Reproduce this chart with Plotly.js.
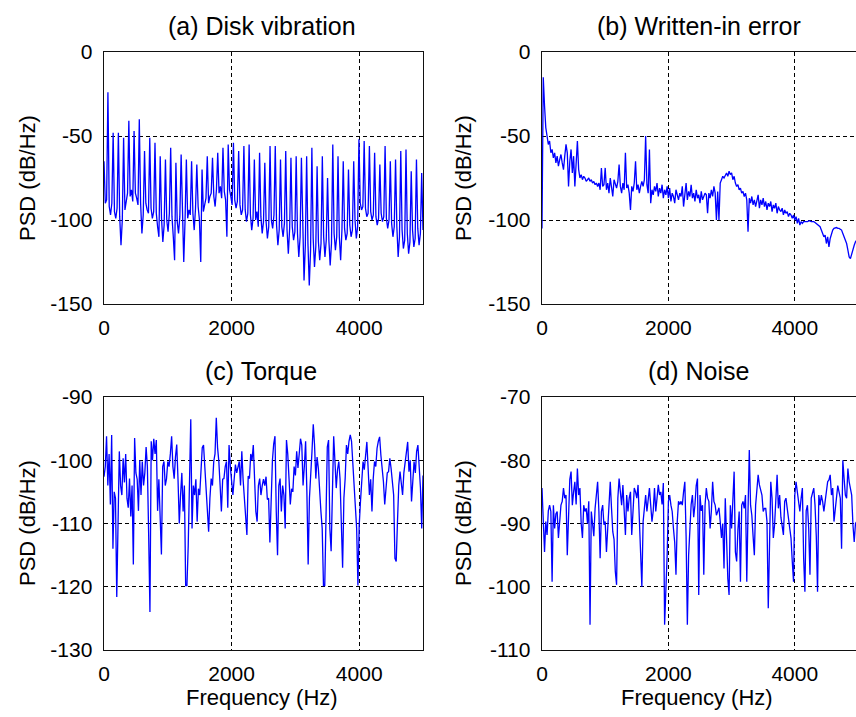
<!DOCTYPE html>
<html>
<head>
<meta charset="utf-8">
<script src="https://cdn.plot.ly/plotly-3.0.1.min.js"></script>
<style>
html, body { margin: 0; padding: 0; background: #fff; overflow: hidden; width: 856px; height: 717px; }
#chart { width: 880px; height: 717px; }
</style>
</head>
<body>
<div id="chart"></div>
<script>
// ---------------- data ----------------
const panelTitles = ["(a) Disk vibration", "(b) Written-in error", "(c) Torque", "(d) Noise"];
const yLabel = "PSD (dB/Hz)";
const xLabel = "Frequency (Hz)";

const xTickVals = [0, 2000, 4000];
const xTickText = ["0", "2000", "4000"];
const yTickValsAB = [-150, -100, -50, 0];
const yTickTextAB = ["-150", "-100", "-50", "0"];
const yTickValsC = [-130, -120, -110, -100, -90];
const yTickTextC = ["-130", "-120", "-110", "-100", "-90"];
const yTickValsD = [-110, -100, -90, -80, -70];
const yTickTextD = ["-110", "-100", "-90", "-80", "-70"];

// (a) Disk vibration PSD, 245 bins over 0..5000 Hz
const psdA = [
 -65, -90, -88, -24,   -92, -97, -90, -48,   -95, -99, -93, -48,   -98, -115, -100, -51,
 -94, -88, -84, -41,   -86, -82, -89, -47,   -84, -87, -91, -40,   -90, -108, -97, -59,
 -90, -94, -96, -51,   -93, -99, -95, -54,   -96, -104, -110, -62, -99, -113, -103, -64,
 -100, -107, -96, -57, -98, -110, -124, -66, -101, -108, -98, -61, -103, -125, -100, -64,
 -99, -94, -97, -65,   -96, -106, -93, -67,  -92, -100, -125, -70, -95, -90, -87, -62,
 -90, -86, -84, -63,   -86, -92, -82, -60,   -84, -80, -87, -57,   -83, -88, -110, -55,
 -82, -86, -91, -54,   -88, -93, -89, -59,   -91, -97, -94, -56,   -94, -101, -96, -55,
 -97, -106, -99, -64,  -100, -95, -104, -60, -98, -108, -101, -66, -101, -111, -104, -56,
 -100, -105, -97, -56, -103, -115, -106, -64, -104, -110, -102, -59, -106, -120, -105, -63,
 -104, -112, -107, -62, -108, -122, -110, -63, -112, -136, -115, -62, -114, -139, -118, -57,
 -111, -128, -116, -68, -113, -124, -114, -62, -110, -122, -112, -75, -112, -127, -114, -55,
 -108, -118, -110, -62, -110, -124, -106, -65, -105, -112, -108, -70, -103, -110, -106, -65,
 -100, -111, -104, -52, -90, -94, -92, -53,  -93, -98, -96, -56,   -95, -100, -97, -60,
 -98, -103, -99, -67,  -96, -101, -98, -56,  -99, -105, -100, -65, -102, -110, -104, -64,
 -104, -122, -110, -59, -106, -117, -112, -58, -108, -120, -113, -71, -106, -116, -111, -64,
 -105, -115, -108, -72,
 -106
];

// (b) Written-in error PSD, 20 Hz bins over 0..5000 Hz
const psdB = [
 -105, -15, -32, -45, -50, -55, -53, -60, -58, -63,
 -60, -66, -62, -68, -64, -61, -66, -70, -62, -55,
 -60, -80, -65, -58, -72, -62, -80, -68, -53, -70,
 -75, -73, -76, -74, -75, -77, -76, -75, -77, -76,
 -78, -77, -79, -78, -80, -78, -82, -69, -80, -79,
 -69, -82, -78, -84, -75, -80, -86, -76, -79, -81,
 -77, -67, -80, -84, -78, -82, -60, -81, -79, -84,
 -94, -80, -83, -78, -65, -82, -79, -84, -80, -77,
 -80, -76, -50, -79, -84, -58, -90, -82, -85, -80,
 -83, -78, -86, -81, -84, -79, -87, -82, -85, -80,
 -87, -81, -89, -84, -86, -90, -82, -85, -88, -84,
 -86, -80, -92, -85, -78, -88, -83, -86, -79, -87,
 -84, -89, -82, -87, -85, -90, -83, -88, -86, -84,
 -85, -96, -84, -87, -82, -86, -80, -84, -100, -83,
 -100, -78, -76, -74, -75, -73, -72, -74, -71, -73,
 -72, -76, -74, -78, -80, -79, -82, -81, -84, -83,
 -86, -84, -88, -107, -87, -90, -86, -91, -88, -92,
 -89, -85, -93, -88, -91, -87, -92, -89, -94, -90,
 -92, -89, -95, -91, -93, -90, -96, -92, -94, -95,
 -93, -97, -94, -96, -95, -98, -96, -97, -99, -97,
 -100, -98, -102, -99, -103, -101, -102, -101, -101, -101,
 -101, -100.5, -100.5, -101, -101, -101, -101.5, -102, -102.5, -103,
 -104, -106, -108, -110, -109, -114, -110, -116, -111, -108,
 -106, -105, -104.5, -104.5, -105, -105, -105.5, -106, -108, -110,
 -112, -114, -118, -122, -123, -120, -117, -115, -113, -112,
 -111
];

// (c) Torque PSD, 20 Hz bins over 0..5000 Hz
const psdC = [
 -102.6, -101, -96.2, -104, -99, -107, -96, -114, -105, -106,
 -121.6, -110, -98.6, -104, -105.5, -99.7, -103.5, -99, -106, -107.5,
 -102.9, -108.9, -104, -116.5, -96.5, -102, -103, -108, -100, -105.5,
 -100.2, -104, -102, -97.9, -101, -111.8, -124, -97, -100, -96.6,
 -99, -96.8, -108, -103, -109, -114.9, -101, -100.2, -104, -102.9,
 -100.2, -101, -99, -96.2, -101, -102.9, -99.5, -97.5, -103, -110,
 -105.5, -102, -108.1, -104, -119.8, -119.8, -113.5, -104, -93.5, -110.8,
 -104, -105.5, -103, -109.7, -104.5, -105.5, -100.2, -98, -97.6, -101,
 -105.5, -108, -111.3, -106, -102.9, -104, -100.2, -99, -93.3, -98,
 -100.2, -104, -108.1, -103, -102.9, -101, -100.2, -107.5, -97.6, -101,
 -102.9, -105.5, -103, -100.7, -102, -101, -100.2, -104, -98.6, -103,
 -105.5, -108, -111.8, -102.5, -102.9, -99, -100, -97.6, -105, -108.1,
 -109.7, -104, -102.9, -105.5, -104, -103, -104, -102.6, -106.2, -106,
 -113, -105.5, -100, -97.4, -96.2, -108.1, -115, -104, -102.9, -108.1,
 -104, -105.5, -110.8, -96.8, -99, -102.9, -107, -104.5, -105, -101,
 -102.4, -98.6, -101.2, -99, -96.6, -97.6, -104, -101, -97, -105,
 -116.5, -106, -102.9, -98.6, -94.3, -97.6, -102.9, -99.5, -101.3, -106,
 -108.1, -110.8, -119.8, -119.8, -105.5, -97.9, -96.8, -110.8, -114.4, -103,
 -96.2, -100.2, -104.4, -101.5, -100.2, -103, -110.8, -117, -106, -102.9,
 -97.6, -99, -97, -96, -97, -100.7, -105.5, -108, -110.8, -119.8,
 -110.3, -106.5, -102.9, -100.2, -101.5, -99.2, -97.1, -101.3, -105.5, -103,
 -108.1, -102.9, -100.2, -101, -98.1, -97, -96.3, -99.2, -101, -103.4,
 -107, -104.5, -102, -101.8, -99.7, -101.3, -103, -105.5, -115.5, -116,
 -109.7, -104, -101.8, -103.4, -105.5, -102, -100.2, -98.1, -97.1, -101.8,
 -100, -106.5, -103.4, -100.2, -102, -98.6, -97.6, -101, -104.4, -110.8,
 -102.4
];

// (d) Noise PSD, 20 Hz bins over 0..5000 Hz
const psdD = [
 -84.4, -89.7, -94.5, -89.7, -91.8, -88, -87.1, -88.1, -99.2, -87.1,
 -90.8, -88.5, -88.1, -92.3, -89, -87.1, -86.5, -84.4, -86, -85.5,
 -95, -87.6, -83, -81.8, -87.1, -85, -83.4, -87, -81.3, -85.5,
 -84.4, -90, -92.3, -87.1, -88.1, -87.6, -90, -86.5, -106, -88.1,
 -90.8, -92, -87.6, -85, -83.4, -88, -95.5, -88.1, -87.1, -90.2,
 -89.7, -94.5, -90, -85.5, -83.4, -87.6, -91.3, -92.5, -97.6, -99.7,
 -86, -82.9, -85, -87.1, -83.9, -88, -91.8, -85.5, -88.1, -86,
 -85, -91.8, -87.1, -84.4, -85, -86, -83.9, -89, -95, -100,
 -89.7, -87.1, -85.5, -88.1, -86.5, -84.4, -87.1, -89.7, -88, -84.4,
 -88.1, -86, -83.9, -85.5, -85, -87, -83.6, -106, -101.3, -95,
 -86.5, -85.5, -87.1, -88.1, -90.8, -93, -98.1, -89.7, -86.5, -87,
 -86.5, -87.1, -85, -83.4, -92, -106, -95, -90, -87, -85.5,
 -89, -87.1, -84, -82.9, -101.3, -85.5, -88, -87.1, -98.1, -87.1,
 -84.4, -86, -86.5, -90.8, -88, -83.4, -86.5, -87.1, -88.7, -88.1,
 -87.5, -89.7, -92.3, -90, -97.1, -86, -93, -98.7, -101.3, -87.1,
 -90.8, -86, -81.8, -94.5, -96, -91, -88.1, -99.2, -87.1, -86.5,
 -87.6, -85.5, -99.2, -88, -78.4, -87.1, -88.7, -92, -95, -87.1,
 -85, -82.3, -83.9, -85, -85.5, -88.1, -87.6, -87.6, -89.7, -103.4,
 -93.9, -83.4, -86, -92.3, -90.2, -85, -82.3, -87.6, -85.5, -89,
 -90.8, -91.8, -86.5, -86, -87.6, -89.5, -90.8, -92.3, -96, -99.2,
 -85.5, -83.4, -85, -87.1, -88.1, -86, -84.4, -95.5, -100.8, -88,
 -87.1, -90.8, -98.1, -86, -85, -84.4, -87.1, -92, -100.8, -85.5,
 -87.1, -85.5, -86.5, -88.1, -86.5, -84.4, -83.4, -83.1, -82.3, -85.5,
 -84.4, -89.7, -88, -85.5, -84, -85, -86, -94, -80, -82.9,
 -85.5, -86, -81.3, -83.4, -84.4, -85.5, -90.2, -92.9, -90, -89.7,
 -88
];

// frequency bins (uniform sampling of 0..5000 Hz)
const fMax = 5000;
const freqA = psdA.map((_, i) => i * fMax / (psdA.length - 1));
const freqB = psdB.map((_, i) => i * fMax / (psdB.length - 1));
const freqC = psdC.map((_, i) => i * fMax / (psdC.length - 1));
const freqD = psdD.map((_, i) => i * fMax / (psdD.length - 1));

// ---------------- layout ----------------
const W = 880, H = 717;
const PX = p => p / W;
const PY = p => 1 - p / H;
const colL = [104, 423], colR = [542, 858];
const rowT = [52, 304], rowB = [397, 650];

const FONT = "Liberation Sans, Arial, Helvetica, sans-serif";
const lineColor = "rgb(0,0,255)";
const GRIDDASH = "4px,3px";

function xAxis(col, anchor) {
  return {
    domain: [PX(col[0]), PX(col[1])], anchor: anchor,
    range: [0, fMax], tickmode: "array", tickvals: xTickVals, ticktext: xTickText,
    showline: true, mirror: true, linecolor: "#111", linewidth: 1.4,
    ticks: "", ticklabelstandoff: 4,
    showgrid: true, gridcolor: "#000", gridwidth: 1, griddash: GRIDDASH,
    zeroline: false, tickfont: { family: FONT, size: 21, color: "#000" }
  };
}
function yAxis(row, anchor, range, vals, text) {
  return {
    domain: [PY(row[1]), PY(row[0])], anchor: anchor,
    range: range, tickmode: "array", tickvals: vals, ticktext: text,
    showline: true, mirror: true, linecolor: "#111", linewidth: 1.4,
    ticks: "", ticklabelstandoff: 6,
    showgrid: true, gridcolor: "#000", gridwidth: 1, griddash: GRIDDASH,
    zeroline: false, tickfont: { family: FONT, size: 21, color: "#000" }
  };
}

const traces = [
  { x: freqA, y: psdA, xaxis: "x", yaxis: "y", type: "scatter", mode: "lines", line: { color: lineColor, width: 1.3 }, hoverinfo: "skip" },
  { x: freqB, y: psdB, xaxis: "x2", yaxis: "y2", type: "scatter", mode: "lines", line: { color: lineColor, width: 1.3 }, hoverinfo: "skip" },
  { x: freqC, y: psdC, xaxis: "x3", yaxis: "y3", type: "scatter", mode: "lines", line: { color: lineColor, width: 1.3 }, hoverinfo: "skip" },
  { x: freqD, y: psdD, xaxis: "x4", yaxis: "y4", type: "scatter", mode: "lines", line: { color: lineColor, width: 1.3 }, hoverinfo: "skip" }
];

function ann(text, xpx, ypx, size, angle) {
  return { text: text, xref: "paper", yref: "paper", x: PX(xpx), y: PY(ypx),
    xanchor: "center", yanchor: "middle", showarrow: false, textangle: angle || 0,
    font: { family: FONT, size: size, color: "#000" } };
}

const layout = {
  width: W, height: H,
  margin: { l: 0, r: 0, t: 0, b: 0 },
  paper_bgcolor: "#fff", plot_bgcolor: "#fff",
  showlegend: false,
  xaxis: xAxis(colL, "y"),
  yaxis: yAxis(rowT, "x", [-150, 0], yTickValsAB, yTickTextAB),
  xaxis2: xAxis(colR, "y2"),
  yaxis2: yAxis(rowT, "x2", [-150, 0], yTickValsAB, yTickTextAB),
  xaxis3: xAxis(colL, "y3"),
  yaxis3: yAxis(rowB, "x3", [-130, -90], yTickValsC, yTickTextC),
  xaxis4: xAxis(colR, "y4"),
  yaxis4: yAxis(rowB, "x4", [-110, -70], yTickValsD, yTickTextD),
  annotations: [
    ann(panelTitles[0], 262, 26, 25),
    ann(panelTitles[1], 699, 26, 25),
    ann(panelTitles[2], 261, 371, 25),
    ann(panelTitles[3], 698, 371, 25),
    ann(yLabel, 27, 178, 22, -90),
    ann(yLabel, 463, 178, 22, -90),
    ann(yLabel, 27, 523, 22, -90),
    ann(yLabel, 463, 523, 22, -90),
    ann(xLabel, 262, 697, 22),
    ann(xLabel, 697, 697, 22)
  ]
};

Plotly.newPlot("chart", traces, layout, { staticPlot: true, displayModeBar: false });
</script>
</body>
</html>
